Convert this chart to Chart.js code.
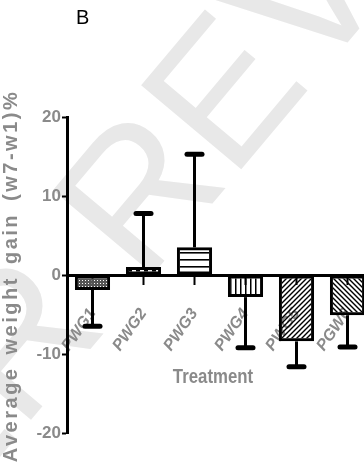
<!DOCTYPE html>
<html>
<head>
<meta charset="utf-8">
<script src="https://cdn.jsdelivr.net/npm/chart.js@4.4.1/dist/chart.umd.min.js"></script>
<style>
  html, body { margin: 0; padding: 0; background: #fff; overflow: hidden; }
</style>
</head>
<body>
<canvas id="myChart" width="390" height="475"></canvas>
<script>
// grupy i średni przyrost masy (w7-w1)% z odchyleniem
const grupy = ['PWG1', 'PWG2', 'PWG3', 'PWG4', 'PWG5', 'PGW6'];
const sredni_przyrost = [-1.9, 1.0, 3.5, -2.8, -8.4, -5.1];
const odchylenie = [4.6, 6.8, 11.8, 6.4, 3.2, 4.0];
const y_ticki = [-20, -10, 0, 10, 20];

const szary = '#8a8a8a';

function wzor(w, h, rysuj) {
    const c = document.createElement('canvas');
    c.width = w;
    c.height = h;
    const g = c.getContext('2d');
    g.fillStyle = '#000';
    g.strokeStyle = '#000';
    rysuj(g);
    return g.createPattern(c, 'repeat');
}

const wypelnienia = [
    // drobna kratka
    wzor(3, 3, g => { g.fillStyle = '#555'; g.fillRect(0, 0, 3, 3); g.clearRect(1, 1, 1, 1); }),
    // kreski
    wzor(8, 8, g => { g.fillRect(0, 0, 4, 8); }),
    // poziome linie
    wzor(4, 7, g => { g.fillRect(0, 0, 4, 1.6); }),
    // pionowe linie
    wzor(5, 4, g => { g.fillRect(0, 0, 1.5, 4); }),
    // ukośne /
    wzor(5, 5, g => {
        g.lineWidth = 1.4;
        g.beginPath();
        g.moveTo(-1, 6); g.lineTo(6, -1);
        g.moveTo(-1, 1); g.lineTo(1, -1);
        g.moveTo(4, 6); g.lineTo(6, 4);
        g.stroke();
    }),
    // ukośne \
    wzor(5, 5, g => {
        g.lineWidth = 1.4;
        g.beginPath();
        g.moveTo(-1, -1); g.lineTo(6, 6);
        g.moveTo(4, -1); g.lineTo(6, 1);
        g.moveTo(-1, 4); g.lineTo(1, 6);
        g.stroke();
    })
];

const tlo = {
    id: 'tlo',
    beforeDraw(chart) {
        const ctx = chart.ctx;
        ctx.save();
        ctx.fillStyle = '#fff';
        ctx.fillRect(0, 0, chart.width, chart.height);

        // znak wodny
        ctx.translate(135, 190);
        ctx.rotate(-50 * Math.PI / 180);
        ctx.font = '190px "Liberation Sans"';
        ctx.fillStyle = '#e8e8e8';
        ctx.textBaseline = 'alphabetic';
        const przes = ctx.measureText('PEER ').width + ctx.measureText('R').width / 2;
        ctx.fillText('PEER REVIEW', -przes, 0.358 * 190);
        ctx.restore();

        // tytuł osi y
        ctx.save();
        ctx.translate(11, 276);
        ctx.rotate(-Math.PI / 2);
        ctx.font = 'bold 20px "Liberation Sans"';
        ctx.letterSpacing = '2.5px';
        ctx.wordSpacing = '4px';
        ctx.fillStyle = szary;
        ctx.textAlign = 'center';
        ctx.textBaseline = 'middle';
        ctx.fillText('Average weight gain (w7-w1)%', 0, 0);
        ctx.restore();
    }
};

const slupki_bledow = {
    id: 'slupki_bledow',
    afterDatasetsDraw(chart) {
        const ctx = chart.ctx;
        const sx = chart.scales.x;
        const sy = chart.scales.y;
        ctx.save();
        ctx.strokeStyle = '#000';
        sredni_przyrost.forEach((m, i) => {
            const kier = m < 0 ? -1 : 1;
            const px = sx.getPixelForValue(i);
            const y0 = sy.getPixelForValue(m);
            const y1 = sy.getPixelForValue(m + kier * odchylenie[i]);
            ctx.lineWidth = 3;
            ctx.lineCap = 'butt';
            ctx.beginPath();
            ctx.moveTo(px, y0);
            ctx.lineTo(px, y1);
            ctx.stroke();
            ctx.lineWidth = 5;
            ctx.lineCap = 'round';
            ctx.beginPath();
            ctx.moveTo(px - 7.5, y1);
            ctx.lineTo(px + 7.5, y1);
            ctx.stroke();
        });
        ctx.restore();
    },
    afterDraw(chart) {
        const ctx = chart.ctx;
        ctx.save();
        // zwężony podpis osi x
        ctx.translate(213, 377);
        ctx.scale(0.8, 1);
        ctx.font = 'bold 21px "Liberation Sans"';
        ctx.fillStyle = szary;
        ctx.textAlign = 'center';
        ctx.textBaseline = 'middle';
        ctx.fillText('Treatment', 0, 0);
        ctx.restore();

        ctx.save();
        ctx.font = '20px "Liberation Sans"';
        ctx.fillStyle = '#000';
        ctx.textAlign = 'left';
        ctx.textBaseline = 'top';
        ctx.fillText('B', 76, 8);
        ctx.restore();
    }
};

const ctx = document.getElementById('myChart');

new Chart(ctx, {
    type: 'bar',
    data: {
        labels: grupy,
        datasets: [{
            data: sredni_przyrost,
            backgroundColor: wypelnienia,
            borderColor: '#000',
            borderWidth: 3,
            borderSkipped: false,
            barPercentage: 0.69,
            categoryPercentage: 1.0
        }]
    },
    options: {
        responsive: false,
        animation: false,
        devicePixelRatio: 1,
        layout: { padding: { top: 117, bottom: 42, right: 17, left: 0 } },
        plugins: {
            legend: { display: false },
            tooltip: { enabled: false }
        },
        scales: {
            x: {
                position: { y: 0 },
                offset: true,
                grid: {
                    offset: false,
                    drawOnChartArea: false,
                    tickLength: 8,
                    tickWidth: 2,
                    tickColor: '#000'
                },
                border: { color: '#000', width: 3 },
                ticks: {
                    color: szary,
                    autoSkip: false,
                    minRotation: 55,
                    maxRotation: 55,
                    padding: 22,
                    font: { family: '"Liberation Sans"', size: 16, weight: 'bold', style: 'italic' }
                }
            },
            y: {
                min: -20,
                max: 20,
                afterBuildTicks: s => { s.ticks = y_ticki.map(v => ({ value: v })); },
                afterFit: s => { s.width = 67; },
                grid: {
                    drawOnChartArea: false,
                    tickLength: 5,
                    tickWidth: 2,
                    tickColor: '#000'
                },
                border: { color: '#000', width: 3 },
                ticks: {
                    color: szary,
                    padding: 1,
                    font: { family: '"Liberation Sans"', size: 17, weight: 'bold' }
                }
            }
        }
    },
    plugins: [tlo, slupki_bledow]
});
</script>
</body>
</html>
